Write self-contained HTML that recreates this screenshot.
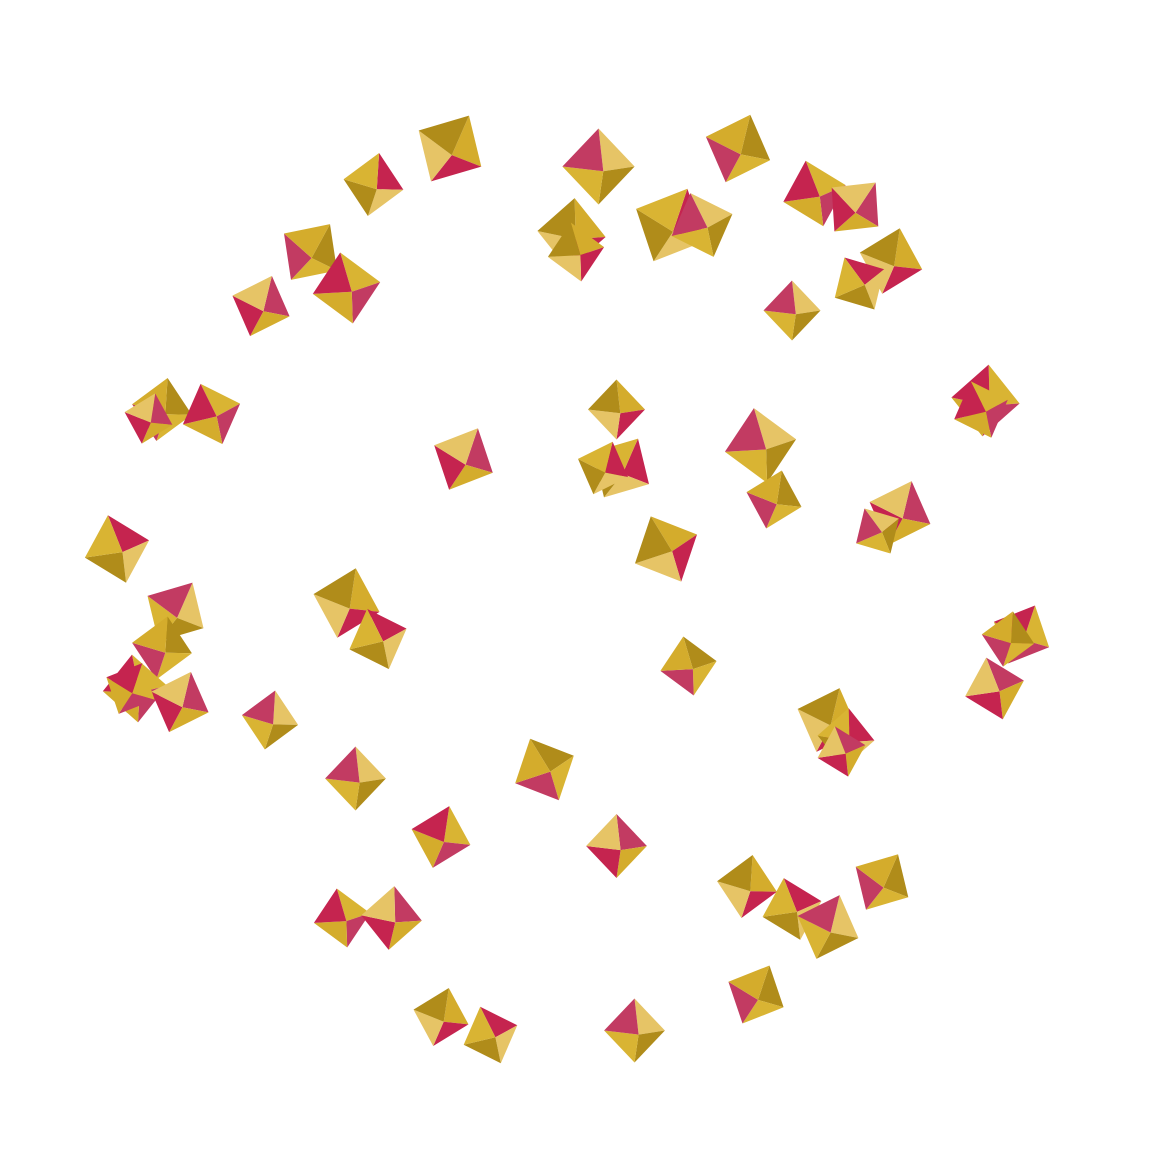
<!DOCTYPE html>
<html>
<head>
<meta charset="utf-8">
<style>
html,body{margin:0;padding:0;background:#fff;}
svg{display:block;}
</style>
</head>
<body>
<svg id="chart" width="1152" height="1152" viewBox="0 0 1152 1152" xmlns="http://www.w3.org/2000/svg">
<rect width="1152" height="1152" fill="#ffffff"/>
<g id="marks"></g>
</svg>
<script>
// data-space coordinates (normalized -1..1)
const xVals = [-0.28,-0.45,0.05,0.36,0.53,0.62,-0.01,0.21,0.28,-0.59,-0.51,-0.70,0.70,0.63,0.48,-0.92,-0.81,-0.25,0.09,0.10,0.41,0.44,0.91,0.72,0.20,-1.02,-0.89,-0.92,-0.98,-0.88,-0.51,-0.44,-0.68,0.25,0.99,0.93,0.56,0.60,-0.49,-0.07,-0.30,0.09,0.38,0.48,0.56,0.68,-0.52,-0.41,-0.30,-0.19,0.13,0.40,0.90,-0.95,0.00,0.06,0.67,0.96,-0.99,0.59];
const yVals = [0.95,0.87,0.91,0.95,0.85,0.82,0.76,0.78,0.78,0.72,0.64,0.60,0.70,0.65,0.59,0.37,0.36,0.26,0.37,0.24,0.29,0.17,0.39,0.14,0.06,0.06,-0.08,-0.16,-0.25,-0.28,-0.06,-0.14,-0.32,-0.20,-0.13,-0.25,-0.32,-0.36,-0.45,-0.43,-0.58,-0.60,-0.69,-0.74,-0.78,-0.68,-0.76,-0.76,-0.98,-1.02,-1.01,-0.93,0.37,0.35,0.72,0.24,0.10,-0.14,-0.25,-0.39];
const sizes = [38,32,38,36,34,32,36,40,34,34,36,32,34,30,30,32,32,34,30,34,38,30,36,34,36,35,34,32,34,32,36,32,30,30,32,32,34,30,32,34,32,32,32,32,34,32,30,32,30,30,32,32,30,26,30,28,26,28,28,26];
const angles = [30,10,0,20,-15,40,5,25,-20,35,-10,20,15,-30,0,10,-20,25,0,30,-10,15,5,20,-25,-15,30,10,-5,20,15,-20,10,-10,25,-15,20,5,0,-25,15,0,10,-15,20,30,-10,5,15,-20,0,25,-20,15,-10,20,-30,10,25,-15];

const sx = v => 576 + v * 450;
const sy = v => 576 - v * 450;

const palette = ['#d4ac2c','#c5244f','#e6c466','#b08c1a','#d9b433','#c23b62'];
const g = document.getElementById('marks');
const NS = 'http://www.w3.org/2000/svg';

for (let i = 0; i < xVals.length; i++) {
  const cx = sx(xVals[i]), cy = sy(yVals[i]), r = sizes[i], a = angles[i] * Math.PI / 180;
  const grp = document.createElementNS(NS, 'g');
  
  
  const pt = (ang, rad) => [cx + rad * Math.cos(ang + a), cy + rad * Math.sin(ang + a)];
  const top = pt(-Math.PI / 2, r), right = pt(0, r * 0.95), bot = pt(Math.PI / 2, r), left = pt(Math.PI, r * 0.95);
  const mid = pt(Math.PI / 4, r * 0.18);
  const tris = [[top, right, mid], [right, bot, mid], [bot, left, mid], [left, top, mid]];
  tris.forEach((t, k) => {
    const p = document.createElementNS(NS, 'polygon');
    p.setAttribute('points', t.map(q => q[0].toFixed(1) + ',' + q[1].toFixed(1)).join(' '));
    p.setAttribute('fill', palette[(i + k) % palette.length]);
    
    
    grp.appendChild(p);
  });
  g.appendChild(grp);
}
</script>
</body>
</html>
